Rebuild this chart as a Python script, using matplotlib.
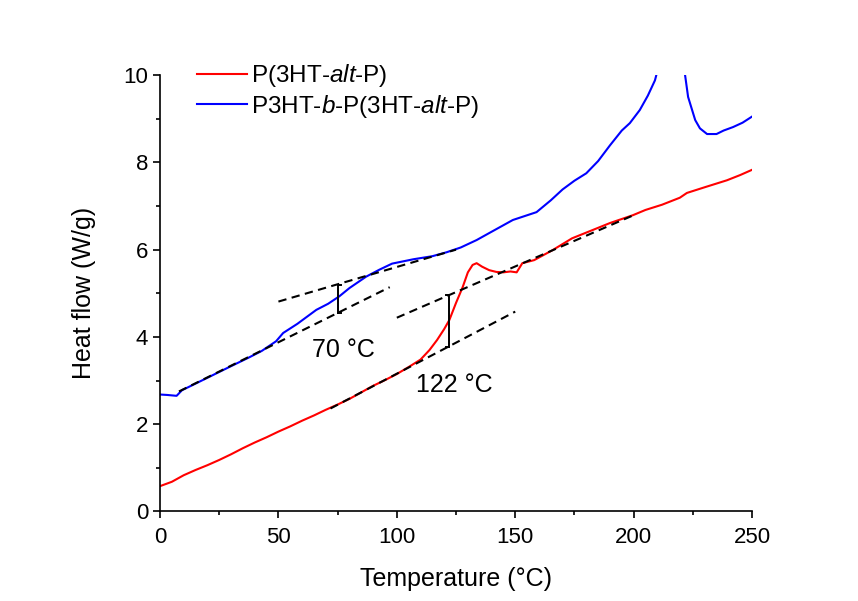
import numpy as np
import matplotlib
matplotlib.use("Agg")
import matplotlib.pyplot as plt
from matplotlib.ticker import MultipleLocator

plt.rcParams['font.family'] = ['Liberation Sans', 'DejaVu Sans']
plt.rcParams['mathtext.fontset'] = 'custom'
plt.rcParams['mathtext.rm'] = 'Liberation Sans'
plt.rcParams['mathtext.it'] = 'Liberation Sans:italic'

# Red: P(3HT-alt-P)
red_T = [0, 5, 10, 15, 20, 25, 30, 35, 40, 45, 50, 55, 60, 65, 70, 75, 80, 85, 90,
         95, 100, 105, 110, 113.8, 117, 120, 122.2, 125, 127.8, 130, 132, 133.7, 136,
         139, 142, 145, 148, 150.6, 153, 158, 165.8, 174, 182.7, 190, 199.7, 205, 212,
         219.5, 222.5, 230, 239.4, 245, 250]
red_H = [0.58, 0.68, 0.83, 0.95, 1.06, 1.18, 1.31, 1.45, 1.58, 1.70, 1.83, 1.95, 2.08,
         2.20, 2.33, 2.45, 2.58, 2.73, 2.88, 3.01, 3.15, 3.31, 3.48, 3.70, 3.93, 4.18,
         4.39, 4.78, 5.14, 5.48, 5.65, 5.69, 5.61, 5.53, 5.49, 5.48, 5.50, 5.48, 5.69,
         5.76, 5.99, 6.26, 6.45, 6.61, 6.79, 6.91, 7.03, 7.19, 7.30, 7.43, 7.59, 7.71, 7.83]

# Blue: P3HT-b-P(3HT-alt-P)
blue_T = [0, 3, 7, 9.3, 12, 18, 24, 30, 37.6, 43, 49, 52, 58, 66, 71, 75.7, 80, 87, 92.6,
          98, 107, 115, 121, 127, 133.7, 140, 149, 159, 165, 170, 175, 180, 185, 190,
          195, 198.4, 202.6, 206, 209, 211.5, 216, 220.8, 221.7, 223, 226, 228, 231,
          235, 238, 242, 246, 250]
blue_H = [2.68, 2.67, 2.65, 2.78, 2.85, 3.01, 3.17, 3.33, 3.53, 3.68, 3.90, 4.09, 4.30,
          4.62, 4.76, 4.93, 5.12, 5.38, 5.54, 5.68, 5.78, 5.85, 5.94, 6.05, 6.22, 6.41,
          6.68, 6.86, 7.13, 7.38, 7.58, 7.75, 8.03, 8.39, 8.73, 8.90, 9.20, 9.53, 9.88,
          10.4, np.nan, 10.4, 10.01, 9.50, 8.97, 8.78, 8.65, 8.65, 8.73, 8.81, 8.91, 9.05]

# Tangent (baseline) construction lines: (T_start, H_start, T_end, H_end)
blue_lower = (8, 2.75, 97, 5.14)
blue_upper = (50, 4.81, 125, 6.00)
red_lower = (72, 2.36, 150, 4.58)
red_upper = (100, 4.44, 200, 6.79)

# Step markers (T, H_low, H_high)
step_blue = (75, 4.55, 5.20)
step_red = (122, 3.76, 4.96)

labels = [r'P(3HT-$\mathit{alt}$-P)', r'P3HT-$\mathit{b}$-P(3HT-$\mathit{alt}$-P)']
annotations = [("70 °C", 77.4, 3.70), ("122 °C", 124.4, 2.90)]

fig = plt.figure(figsize=(8.58, 6.01), dpi=100)
ax = fig.add_axes([0.1865, 0.149, 0.69, 0.726])

l1, = ax.plot(red_T, red_H, color='#ff0000', lw=1.5)
l2, = ax.plot(blue_T, blue_H, color='#0000ff', lw=1.5)

for (x0, y0, x1, y1) in [blue_lower, blue_upper, red_lower, red_upper]:
    ax.plot([x0, x1], [y0, y1], color='black', lw=1.5, dashes=(4, 2.6))

def step(T, lo, hi, side):
    ax.plot([T, T], [lo, hi], color='black', lw=1.4)
    d = 1.4 * side
    ax.plot([T, T + d], [lo, lo], color='black', lw=1.4)
    ax.plot([T, T + d], [hi, hi], color='black', lw=1.4)

step(*step_blue, side=1)
step(*step_red, side=-1)

for txt, x, y in annotations:
    ax.text(x, y, txt, fontsize=18, ha='center', va='center')

ax.set_xlim(0, 250)
ax.set_ylim(0, 10)
ax.xaxis.set_major_locator(MultipleLocator(50))
ax.xaxis.set_minor_locator(MultipleLocator(25))
ax.yaxis.set_major_locator(MultipleLocator(2))
ax.yaxis.set_minor_locator(MultipleLocator(1))
ax.tick_params(which='major', direction='out', length=5, width=1.2, labelsize=16)
ax.tick_params(axis='x', which='major', pad=6)
ax.tick_params(which='minor', direction='out', length=3, width=1.2)
for s in ['top', 'right']:
    ax.spines[s].set_visible(False)
for s in ['left', 'bottom']:
    ax.spines[s].set_linewidth(1.2)

ax.set_xlabel('Temperature (°C)', fontsize=18, labelpad=14)
ax.set_ylabel('Heat flow (W/g)', fontsize=18, labelpad=20)

ax.legend([l1, l2], labels, loc='upper left', bbox_to_anchor=(0.025, 1.08),
          frameon=False, fontsize=17.5, handlelength=2.05, handletextpad=0.2,
          labelspacing=0.15)

fig.savefig('out.png', dpi=100)
